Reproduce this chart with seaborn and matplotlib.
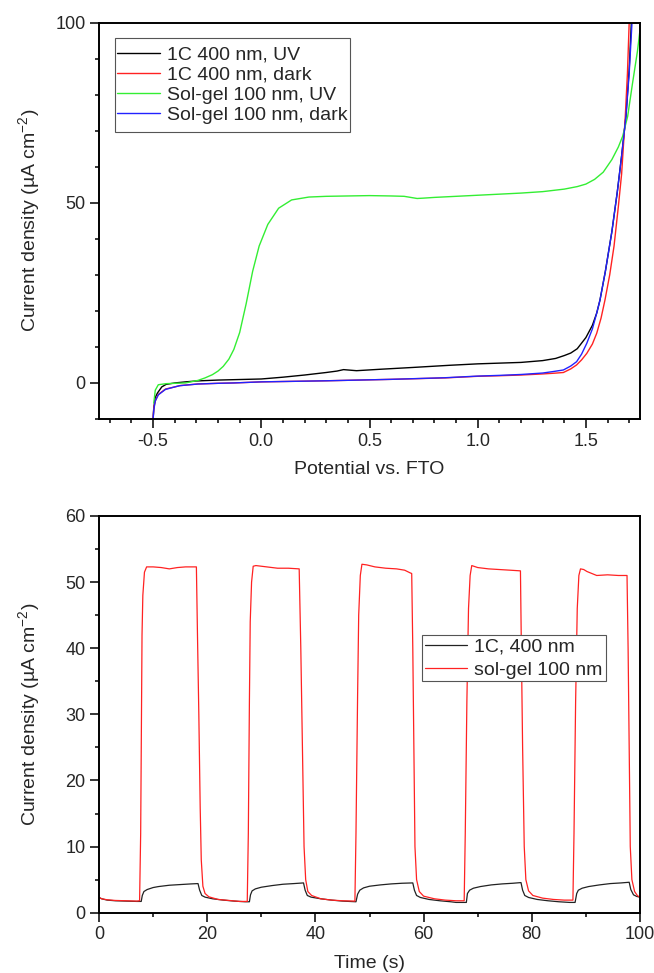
import numpy as np
import pandas as pd
import matplotlib
matplotlib.use("Agg")
import matplotlib.pyplot as plt
from matplotlib.ticker import MultipleLocator, FixedLocator
from matplotlib.path import Path
import seaborn as sns

# ---------------- data: top panel (linear sweep) ----------------
uv1c_x = [-0.50, -0.497, -0.49, -0.48, -0.46, -0.44, -0.40, -0.35, -0.30, -0.20, -0.10, 0.00,
          0.10, 0.20, 0.30, 0.35, 0.38, 0.40, 0.44, 0.55, 0.70, 0.87, 1.00, 1.10, 1.20, 1.30,
          1.36, 1.40, 1.43, 1.46, 1.50, 1.53, 1.55, 1.565, 1.59, 1.62, 1.645, 1.665, 1.685,
          1.70, 1.71]
uv1c_y = [-10, -7, -4, -2.8, -1.1, -0.4, 0.0, 0.3, 0.55, 0.8, 0.95, 1.1,
          1.6, 2.2, 2.9, 3.3, 3.7, 3.6, 3.4, 3.8, 4.3, 4.9, 5.3, 5.5, 5.7, 6.2,
          6.8, 7.6, 8.3, 9.5, 12.6, 16, 19.4, 23, 31, 42, 53, 63, 74,
          87, 100]

dark1c_x = [-0.50, -0.497, -0.49, -0.476, -0.443, -0.40, -0.376, -0.293, -0.20, -0.127, 0.00,
            0.15, 0.30, 0.45, 0.60, 0.85, 1.00, 1.10, 1.20, 1.30, 1.353, 1.396, 1.43, 1.457,
            1.48, 1.504, 1.53, 1.55, 1.57, 1.588, 1.61, 1.63, 1.65, 1.665, 1.682, 1.692, 1.70]
dark1c_y = [-10, -7, -5, -3.2, -1.7, -1.1, -0.74, -0.28, -0.1, 0.0, 0.3,
            0.45, 0.6, 0.8, 1.0, 1.4, 1.85, 2.0, 2.2, 2.5, 2.7, 2.9, 3.9, 5.0,
            6.4, 8.2, 10.8, 13.8, 18, 23, 30, 38, 49, 58, 74, 86, 100]

uvsg_x = [-0.497, -0.49, -0.476, -0.44, -0.40, -0.35, -0.293, -0.26, -0.226, -0.20, -0.176,
          -0.15, -0.127, -0.10, -0.07, -0.04, -0.01, 0.03, 0.08, 0.14, 0.22, 0.30, 0.40, 0.50,
          0.60, 0.66, 0.70, 0.72, 0.75, 0.80, 0.90, 1.00, 1.10, 1.20, 1.30, 1.40, 1.46, 1.50,
          1.54, 1.58, 1.62, 1.65, 1.67, 1.693, 1.715, 1.738, 1.75, 1.76]
uvsg_y = [-5.6, -2.0, -0.5, -0.2, -0.1, 0.0, 0.7, 1.4, 2.3, 3.3, 4.6,
          6.6, 9.3, 14, 22, 31, 38, 44, 48.5, 50.8, 51.6, 51.8, 51.9, 52.0,
          51.9, 51.8, 51.4, 51.2, 51.3, 51.5, 51.8, 52.1, 52.4, 52.7, 53.1, 53.8, 54.5, 55.2,
          56.5, 58.5, 62, 65.5, 68.5, 74, 83, 92, 98, 104]

darksg_x = [-0.50, -0.497, -0.49, -0.476, -0.443, -0.40, -0.376, -0.293, -0.20, -0.127, 0.00,
            0.15, 0.30, 0.45, 0.60, 0.85, 1.00, 1.10, 1.20, 1.30, 1.353, 1.396, 1.43, 1.457,
            1.48, 1.504, 1.53, 1.55, 1.565, 1.59, 1.62, 1.645, 1.665, 1.685, 1.70, 1.713]
darksg_y = [-10, -7.5, -5, -3.3, -1.8, -1.1, -0.75, -0.3, -0.1, 0.0, 0.3,
            0.45, 0.6, 0.8, 1.0, 1.45, 1.9, 2.1, 2.35, 2.75, 3.2, 3.6, 4.7, 5.9,
            8.0, 11.0, 15.0, 19.4, 23, 31, 42, 53, 63, 74, 86, 100]

lsv_labels = ["1C 400 nm, UV", "1C 400 nm, dark", "Sol-gel 100 nm, UV", "Sol-gel 100 nm, dark"]

# ---------------- data: bottom panel (chopped light) ----------------
sg_t = [0, 0.5, 1.5, 3, 5, 7, 7.5,
        7.7, 7.85, 7.95, 8.1, 8.4, 8.8, 10, 11.5, 13, 14.5, 16, 18.0,
        18.2, 18.45, 18.7, 18.9, 19.2, 19.6, 20.3, 22, 24, 26, 27.4,
        27.6, 27.8, 27.95, 28.2, 28.5, 29, 31, 33, 35, 37,
        37.3, 37.6, 37.9, 38.2, 38.6, 39.3, 41, 43, 45, 47.3,
        47.5, 47.8, 48.0, 48.3, 48.6, 49.5, 51, 53, 55, 56.5, 57.5, 57.8,
        58.0, 58.2, 58.4, 58.7, 59.2, 60, 62, 64, 66, 67.5,
        67.7, 68.0, 68.3, 68.6, 68.9, 70, 72, 74, 76, 77.9,
        78.1, 78.3, 78.6, 78.9, 79.4, 80.2, 82, 84, 86, 87.6,
        87.8, 88.1, 88.4, 88.7, 89.0, 89.6, 90.2, 92, 94, 96, 97.6,
        97.8, 98.0, 98.2, 98.5, 99, 99.5, 100]
sg_j = [2.3, 2.1, 1.95, 1.85, 1.8, 1.75, 1.8,
        12, 30, 42, 48, 51.5, 52.3, 52.3, 52.2, 52.0, 52.2, 52.3, 52.3,
        42, 30, 16, 8, 4, 2.9, 2.4, 2.0, 1.85, 1.7, 1.7,
        12, 32, 44, 50, 52.4, 52.5, 52.3, 52.1, 52.1, 52.0,
        40, 25, 10, 5, 3.2, 2.6, 2.1, 1.9, 1.8, 1.75,
        12, 33, 45, 51, 52.7, 52.6, 52.3, 52.1, 52.0, 51.8, 51.4, 51.3,
        40, 25, 10, 5, 3.2, 2.5, 2.1, 1.9, 1.8, 1.8,
        12, 32, 46, 51, 52.5, 52.2, 52.0, 51.9, 51.8, 51.7,
        38, 25, 10, 5, 3.3, 2.6, 2.2, 2.0, 1.9, 1.9,
        12, 32, 46, 51, 52.0, 51.9, 51.6, 51.0, 51.1, 51.0, 51.0,
        40, 25, 10, 5, 3.2, 2.6, 2.3]

c1_t = [0, 0.5, 1.5, 3, 5, 7, 7.8,
        8.0, 8.3, 8.9, 10, 11, 13, 15, 17, 18.3,
        18.6, 19.0, 19.6, 21, 23, 25, 27, 27.8,
        28.0, 28.3, 28.9, 30, 32, 34, 36, 37.8,
        38.1, 38.5, 39.2, 41, 43, 45, 47.5,
        47.8, 48.2, 48.9, 50, 52, 54, 56, 58.0,
        58.3, 58.7, 59.4, 61, 63, 65, 66, 67.9,
        68.1, 68.5, 69.2, 70.5, 72.5, 74.5, 76.5, 78.0,
        78.3, 78.7, 79.4, 81, 83, 85, 87, 88.0,
        88.3, 88.6, 89.3, 90.5, 92.5, 94.5, 96.5, 98.0,
        98.3, 98.8, 99.4, 100]
c1_j = [2.3, 2.1, 1.9, 1.8, 1.75, 1.7, 1.7,
        2.6, 3.2, 3.5, 3.8, 3.95, 4.15, 4.25, 4.35, 4.4,
        3.4, 2.6, 2.35, 2.1, 1.9, 1.75, 1.65, 1.65,
        2.7, 3.3, 3.6, 3.85, 4.1, 4.3, 4.4, 4.5,
        3.4, 2.6, 2.35, 2.1, 1.9, 1.75, 1.65,
        2.8, 3.4, 3.75, 4.0, 4.2, 4.35, 4.45, 4.5,
        3.4, 2.6, 2.3, 2.0, 1.8, 1.65, 1.55, 1.55,
        2.9, 3.4, 3.7, 3.95, 4.2, 4.35, 4.45, 4.55,
        3.4, 2.6, 2.3, 2.0, 1.8, 1.65, 1.55, 1.55,
        2.9, 3.4, 3.7, 3.95, 4.2, 4.4, 4.5, 4.6,
        3.5, 2.7, 2.45, 2.35]

chop_labels = ["1C, 400 nm", "sol-gel 100 nm"]

# ---------------- styling ----------------
sns.set_style("ticks")
plt.rcParams["font.family"] = ["Liberation Sans", "DejaVu Sans"]
plt.rcParams["mathtext.fontset"] = "custom"
plt.rcParams["mathtext.rm"] = "Liberation Sans"
plt.rcParams["mathtext.it"] = "Liberation Sans:italic"
plt.rcParams["mathtext.default"] = "regular"
plt.rcParams["axes.unicode_minus"] = False

C_BLACK = "#000000"
C_RED = "#ff2222"
C_GREEN = "#33ee33"
C_BLUE = "#2222ff"
LW = 1.0

fig = plt.figure(figsize=(6.54, 9.73), dpi=100)
ax1 = fig.add_axes([0.1514, 0.5694, 0.8272, 0.4073])
ax2 = fig.add_axes([0.1514, 0.0620, 0.8272, 0.4077])

def line(ax, x, y, color, label, lw=LW):
    df = pd.DataFrame({"x": x, "y": y})
    sns.lineplot(data=df, x="x", y="y", ax=ax, color=color, lw=lw, label=label,
                 sort=False, estimator=None)

line(ax1, uv1c_x, uv1c_y, C_BLACK, lsv_labels[0])
line(ax1, dark1c_x, dark1c_y, C_RED, lsv_labels[1])
line(ax1, uvsg_x, uvsg_y, C_GREEN, lsv_labels[2])
line(ax1, darksg_x, darksg_y, C_BLUE, lsv_labels[3])

line(ax2, c1_t, c1_j, "#222222", chop_labels[0], lw=0.9)
line(ax2, sg_t, sg_j, C_RED, chop_labels[1], lw=0.9)

ax1.set_xlim(-0.75, 1.75)
ax1.set_ylim(-10, 100)
ax1.xaxis.set_major_locator(FixedLocator([-0.5, 0.0, 0.5, 1.0, 1.5]))
ax1.xaxis.set_minor_locator(MultipleLocator(0.1))
ax1.yaxis.set_major_locator(FixedLocator([0, 50, 100]))
ax1.yaxis.set_minor_locator(MultipleLocator(10))
ax1.set_xticklabels(["-0.5", "0.0", "0.5", "1.0", "1.5"])

ax2.set_xlim(0, 100)
ax2.set_ylim(0, 60)
ax2.xaxis.set_major_locator(MultipleLocator(20))
ax2.xaxis.set_minor_locator(MultipleLocator(10))
ax2.yaxis.set_major_locator(MultipleLocator(10))
ax2.yaxis.set_minor_locator(MultipleLocator(5))

ylab = "Current density (µA cm$^{-2}$)"
for ax, xl in ((ax1, "Potential vs. FTO"), (ax2, "Time (s)")):
    for s in ax.spines.values():
        s.set_visible(True)
        s.set_linewidth(1.4)
        s.set_color("black")
    ax.tick_params(which="major", direction="out", length=6.3, width=1.1,
                   labelsize=13, pad=3.5, top=False, right=False, color="black")
    ax.tick_params(which="minor", direction="out", length=3.1, width=1.1,
                   top=False, right=False, color="black")
    ax.set_xlabel(xl, fontsize=14)
    ax.set_ylabel(ylab, fontsize=14)
    ax.xaxis.set_label_coords(0.5, -0.106)
    ax.yaxis.set_label_coords(-0.105, 0.5)
    ax.grid(False)


def tall_box(extra):
    # square frame, padded only vertically (in units of the legend font size)
    def style(x0, y0, width, height, mutation_size):
        dy = extra * mutation_size
        return Path([(x0, y0 - dy), (x0 + width, y0 - dy), (x0 + width, y0 + height + dy),
                     (x0, y0 + height + dy), (x0, y0 - dy)],
                    [Path.MOVETO, Path.LINETO, Path.LINETO, Path.LINETO, Path.CLOSEPOLY])
    return style


leg1 = ax1.legend(loc="upper left", bbox_to_anchor=(0.0296, 0.947), borderaxespad=0,
                  fontsize=14, frameon=True, fancybox=False, edgecolor="#555555",
                  framealpha=1, handlelength=2.2, handletextpad=0.35, labelspacing=0.13,
                  borderpad=0.12)
leg1.get_frame().set_linewidth(0.8)
leg1.get_frame().set_boxstyle(tall_box(0.27))

leg2 = ax2.legend(loc="upper left", bbox_to_anchor=(0.5965, 0.700), borderaxespad=0,
                  fontsize=14, frameon=True, fancybox=False, edgecolor="#555555",
                  framealpha=1, handlelength=2.2, handletextpad=0.35, labelspacing=0.28,
                  borderpad=0.15)
leg2.get_frame().set_linewidth(0.8)

fig.savefig("out.png", dpi=100)
